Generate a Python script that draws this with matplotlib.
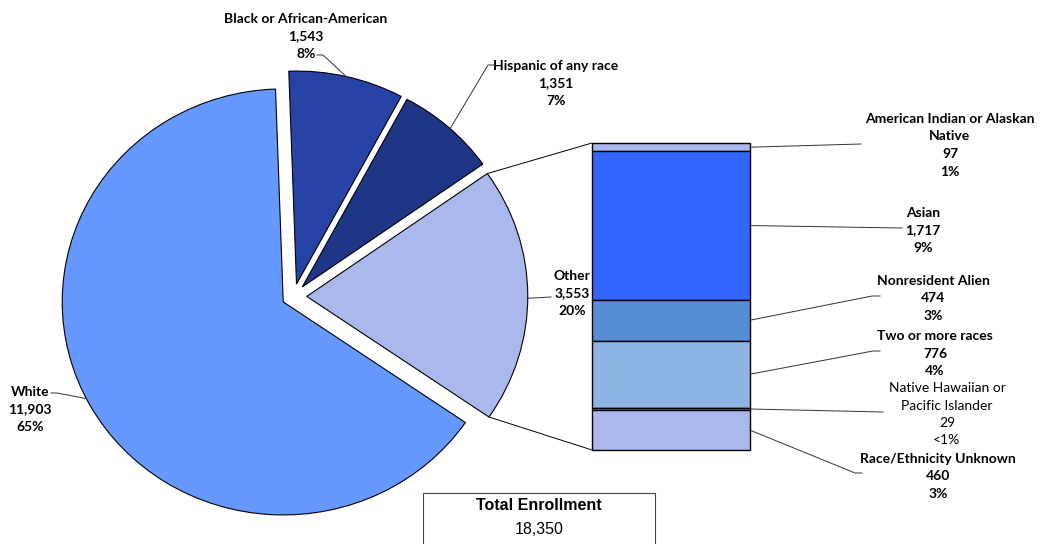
import numpy as np
import matplotlib
matplotlib.use('Agg')
import matplotlib.pyplot as plt
from matplotlib.patches import ConnectionPatch, Rectangle

# pie data (clockwise from the top)
pie_labels = ['Black or African-American', 'Hispanic of any race', 'Other', 'White']
pie_values = [1543, 1351, 3553, 11903]
pie_pcts = ['8%', '7%', '20%', '65%']
pie_colors = ['#2643A5', '#1F3586', '#AAB8EC', '#6699FF']

# breakdown of "Other" (top to bottom in the bar)
bar_labels = ['American Indian or Alaskan\nNative', 'Asian', 'Nonresident Alien',
              'Two or more races', 'Native Hawaiian or\nPacific Islander',
              'Race/Ethnicity Unknown']
bar_values = [97, 1717, 474, 776, 29, 460]
bar_pcts = ['1%', '9%', '3%', '4%', '<1%', '3%']
bar_colors = ['#AAB8EC', '#3366FF', '#558ED5', '#8EB4E3', '#7FA6E0', '#AAB8EC']

total = 18350

W, H = 1042, 544
fig = plt.figure(figsize=(W / 100, H / 100), dpi=100)
fig.patch.set_facecolor('white')

FONT = 'Lato'

# ---------------- pie ----------------
cx, cy = 293.5, 296.5    # pie centre in pixels (from top)
rx, ry = 221, 213        # the original pie is slightly squashed
axp = fig.add_axes([(cx - 1.25 * rx) / W, (H - cy - 1.25 * ry) / H,
                    2.5 * rx / W, 2.5 * ry / H])
wedges, _ = axp.pie(pie_values, colors=pie_colors, startangle=92, counterclock=False,
                    explode=[0.06, 0.06, 0.06, 0.053],
                    wedgeprops=dict(edgecolor='black', linewidth=0.8))
axp.set_aspect('auto')
axp.set_xlim(-1.25, 1.25)
axp.set_ylim(-1.25, 1.25)
axp.axis('off')

# ---------------- stacked bar for "Other" ----------------
bar_top, bar_bot, bar_l, bar_r = 143, 450, 592, 750
axb = fig.add_axes([bar_l / W, (H - bar_bot) / H, (bar_r - bar_l) / W, (bar_bot - bar_top) / H])
other_total = sum(bar_values)
bottoms = np.concatenate([[0], np.cumsum(bar_values)[:-1]])
bars = axb.bar([0] * len(bar_values), bar_values, bottom=bottoms, width=1.0,
               color=bar_colors, edgecolor='black', linewidth=1.0)
for b in bars:
    b.set_clip_on(False)
axb.set_xlim(-0.5, 0.5)
axb.set_ylim(other_total, 0)
axb.axis('off')

# connector lines from the "Other" wedge to the bar corners
other = wedges[2]
ox, oy = other.center
for ang, ycorner in [(other.theta1, other_total), (other.theta2, 0)]:
    px = ox + other.r * np.cos(np.radians(ang))
    py = oy + other.r * np.sin(np.radians(ang))
    con = ConnectionPatch(xyA=(px, py), coordsA=axp.transData,
                          xyB=(-0.5, ycorner), coordsB=axb.transData,
                          color='black', linewidth=0.7)
    fig.add_artist(con)

# ---------------- overlay for labels (pixel coords) ----------------
ax = fig.add_axes([0, 0, 1, 1])
ax.set_xlim(0, W)
ax.set_ylim(H, 0)
ax.axis('off')
ax.patch.set_visible(False)

def on_arc(w, ang):
    # point on a wedge's outer arc, in overlay pixel coords
    x0, y0 = w.center
    p = (x0 + w.r * np.cos(np.radians(ang)), y0 + w.r * np.sin(np.radians(ang)))
    disp = axp.transData.transform(p)
    return tuple(ax.transData.inverted().transform(disp))

def label(x, y, txt, bold=True, size=10):
    ax.text(x, y, txt, ha='center', va='top', fontsize=size, family=FONT,
            fontweight='bold' if bold else 'normal', linespacing=1.55, color='black')

def leader(pts):
    xs, ys = zip(*pts)
    ax.plot(xs, ys, color='#333333', linewidth=0.7)

def fmt(v):
    return f'{v:,}'

# pie labels
pie_pos = [(306, 13), (556, 60), (572, 270), (30, 386)]
pie_leaders = [[(317, 55), (323, 55), on_arc(wedges[0], 77)],
               [(494, 65), (488, 65), on_arc(wedges[1], 48)],
               [(551, 297), on_arc(wedges[2], -0.5)],
               [(51, 393), (57, 393), on_arc(wedges[3], 207)]]
for i, name in enumerate(pie_labels):
    x, y = pie_pos[i]
    label(x, y, f'{name}\n{fmt(pie_values[i])}\n{pie_pcts[i]}')
    leader(pie_leaders[i])

# bar labels
scale = (bar_bot - bar_top) / other_total
mids = bar_top + (bottoms + np.array(bar_values) / 2) * scale
bar_pos = [(950, 113), (923, 207), (933, 275), (935, 330), (947, 382), (938, 453)]
bar_ends = [[(861, 144)], [(902, 228)], [(872, 296), (880, 296)],
            [(873, 351), (880, 351)], [(883, 412)], [(855, 473), (862, 473)]]
for i, name in enumerate(bar_labels):
    x, y = bar_pos[i]
    bold = i != 4
    label(x, y, f'{name}\n{fmt(bar_values[i])}\n{bar_pcts[i]}', bold=bold)
    leader([(bar_r, mids[i])] + bar_ends[i])

# total enrollment box
ax.add_patch(Rectangle((423, 493), 232, 60, facecolor='white', edgecolor='#444444',
                       linewidth=0.8))
ax.text(539, 505, 'Total Enrollment', ha='center', va='center', fontsize=11.5,
        family='Liberation Sans', fontweight='bold')
ax.text(539, 529, fmt(total), ha='center', va='center', fontsize=11.5,
        family='Liberation Sans')

fig.savefig('out.png', dpi=100)
